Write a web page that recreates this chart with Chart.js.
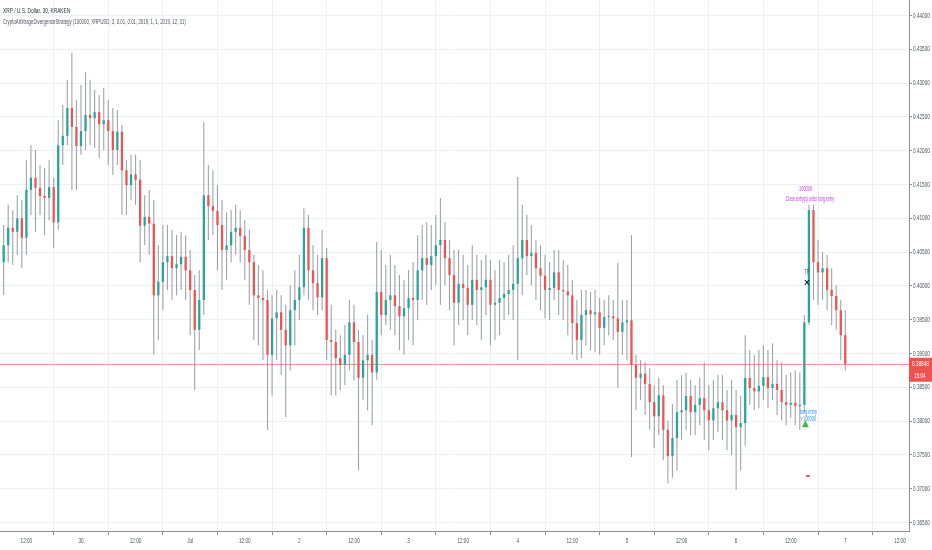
<!DOCTYPE html>
<html>
<head>
<meta charset="utf-8">
<script src="https://cdn.jsdelivr.net/npm/chart.js@4.4.1/dist/chart.umd.min.js"></script>
<style>
  html, body { margin: 0; padding: 0; background: #ffffff; }
  #wrap { width: 932px; height: 550px; }
</style>
</head>
<body>
<div id="wrap"><canvas id="chart" width="932" height="550"></canvas></div>
<script>
// hourly candles, first one at 29 Jun 07:00 (hours counted from 30 Jun 00:00)
const firstHour = -17;

const opens = [
  0.4035,0.4060,0.4086,0.4080,0.4100,0.4071,0.4142,0.4160,0.4145,0.4133,
  0.4130,0.4146,0.4094,0.4208,0.4222,0.4263,0.4235,0.4207,0.4229,0.4253,
  0.4248,0.4257,0.4239,0.4245,0.4229,0.4201,0.4228,0.4171,0.4149,0.4165,
  0.4157,0.4089,0.4102,0.4092,0.3986,0.4006,0.4035,0.4044,0.4026,0.4032,
  0.4043,0.4023,0.3994,0.3935,0.3979,0.4134,0.4118,0.4111,0.4090,0.4053,
  0.4060,0.4080,0.4086,0.4074,0.4053,0.4035,0.3986,0.3982,0.3979,0.3898,
  0.3952,0.3961,0.3935,0.3912,0.3964,0.3979,0.3998,0.4086,0.4023,0.4004,
  0.3983,0.4041,0.3920,0.3917,0.3893,0.3883,0.3898,0.3946,0.3917,0.3864,
  0.3890,0.3898,0.3872,0.3991,0.3957,0.3979,0.3986,0.3970,0.3955,0.3967,
  0.3982,0.3979,0.4023,0.4041,0.4031,0.4044,0.4060,0.4068,0.4041,0.4016,
  0.3975,0.4003,0.3997,0.3972,0.4009,0.3994,0.3998,0.4009,0.3972,0.3975,
  0.3982,0.3988,0.3994,0.4003,0.4041,0.4068,0.4044,0.4049,0.4026,0.4015,
  0.3994,0.3997,0.4020,0.3994,0.3992,0.3986,0.3945,0.3920,0.3957,0.3964,
  0.3958,0.3961,0.3938,0.3954,0.3955,0.3952,0.3932,0.3946,0.3949,0.3883,
  0.3864,0.3870,0.3855,0.3828,0.3807,0.3838,0.3787,0.3748,0.3775,0.3813,
  0.3816,0.3837,0.3813,0.3824,0.3834,0.3816,0.3801,0.3819,0.3828,0.3816,
  0.3801,0.3809,0.3791,0.3797,0.3864,0.3849,0.3844,0.3852,0.3865,0.3849,
  0.3855,0.3846,0.3828,0.3824,0.3827,0.3822,0.3824,0.3946,0.4112,0.4035,
  0.4020,0.4026,0.3994,0.3985,0.3964,0.3927
];
const highs = [
  0.4090,0.4120,0.4112,0.4134,0.4127,0.4186,0.4208,0.4201,0.4179,0.4174,
  0.4186,0.4160,0.4245,0.4268,0.4305,0.4345,0.4275,0.4297,0.4316,0.4305,
  0.4290,0.4282,0.4293,0.4275,0.4263,0.4260,0.4238,0.4186,0.4194,0.4194,
  0.4186,0.4134,0.4142,0.4127,0.4060,0.4090,0.4090,0.4083,0.4075,0.4080,
  0.4075,0.4053,0.4016,0.4023,0.4242,0.4179,0.4171,0.4149,0.4127,0.4109,
  0.4112,0.4120,0.4112,0.4097,0.4083,0.4046,0.4031,0.4023,0.3994,0.3986,
  0.3994,0.3986,0.3972,0.4001,0.4023,0.4046,0.4115,0.4105,0.4060,0.4046,
  0.4083,0.4056,0.3972,0.3935,0.3927,0.3942,0.3979,0.3972,0.3935,0.3927,
  0.3957,0.3920,0.4065,0.4053,0.4031,0.4046,0.4031,0.4016,0.4009,0.4023,
  0.4035,0.4075,0.4090,0.4094,0.4090,0.4105,0.4130,0.4094,0.4068,0.4053,
  0.4053,0.4046,0.4031,0.4060,0.4046,0.4038,0.4046,0.4038,0.4023,0.4038,
  0.4035,0.4046,0.4060,0.4161,0.4120,0.4105,0.4090,0.4068,0.4060,0.4046,
  0.4035,0.4053,0.4053,0.4038,0.4031,0.4009,0.3979,0.3994,0.3994,0.3991,
  0.3994,0.3982,0.3979,0.3986,0.3979,0.4034,0.3979,0.3979,0.4075,0.3898,
  0.3890,0.3887,0.3878,0.3853,0.3864,0.3853,0.3801,0.3825,0.3861,0.3868,
  0.3872,0.3861,0.3853,0.3864,0.3887,0.3853,0.3861,0.3868,0.3868,0.3846,
  0.3861,0.3846,0.3838,0.3927,0.3905,0.3898,0.3905,0.3912,0.3905,0.3915,
  0.3890,0.3887,0.3868,0.3872,0.3875,0.3872,0.3957,0.4120,0.4120,0.4068,
  0.4050,0.4046,0.4026,0.4001,0.3979,0.3964
];
const lows = [
  0.3986,0.4035,0.4031,0.4046,0.4026,0.4046,0.4105,0.4080,0.4105,0.4075,
  0.4097,0.4056,0.4083,0.4179,0.4208,0.4142,0.4142,0.4194,0.4201,0.4208,
  0.4204,0.4189,0.4201,0.4179,0.4164,0.4179,0.4105,0.4105,0.4127,0.4120,
  0.4035,0.4060,0.4046,0.3898,0.3920,0.3964,0.3994,0.3979,0.3986,0.3994,
  0.3979,0.3927,0.3846,0.3905,0.3957,0.4068,0.4075,0.4023,0.3994,0.4009,
  0.4035,0.4046,0.4035,0.4009,0.3972,0.3920,0.3912,0.3890,0.3787,0.3838,
  0.3890,0.3868,0.3806,0.3875,0.3912,0.3949,0.3986,0.3979,0.3964,0.3957,
  0.3964,0.3890,0.3838,0.3838,0.3846,0.3853,0.3875,0.3860,0.3727,0.3831,
  0.3816,0.3794,0.3861,0.3927,0.3942,0.3935,0.3927,0.3905,0.3898,0.3920,
  0.3912,0.3949,0.3979,0.3972,0.3994,0.4001,0.3972,0.4001,0.3964,0.3912,
  0.3942,0.3949,0.3927,0.3949,0.3942,0.3920,0.3957,0.3912,0.3920,0.3927,
  0.3949,0.3957,0.3949,0.3890,0.3986,0.4016,0.4001,0.3979,0.3964,0.3952,
  0.3949,0.3979,0.3957,0.3949,0.3927,0.3898,0.3890,0.3893,0.3912,0.3905,
  0.3902,0.3898,0.3912,0.3927,0.3920,0.3849,0.3898,0.3890,0.3747,0.3816,
  0.3831,0.3809,0.3787,0.3760,0.3779,0.3742,0.3708,0.3716,0.3727,0.3772,
  0.3787,0.3779,0.3779,0.3794,0.3772,0.3757,0.3772,0.3784,0.3772,0.3757,
  0.3750,0.3698,0.3727,0.3764,0.3824,0.3816,0.3819,0.3831,0.3819,0.3831,
  0.3809,0.3801,0.3794,0.3805,0.3794,0.3787,0.3813,0.3942,0.3979,0.3972,
  0.3979,0.3964,0.3942,0.3935,0.3890,0.3875
];
const closes = [
  0.4060,0.4086,0.4080,0.4100,0.4071,0.4142,0.4160,0.4145,0.4133,0.4130,
  0.4146,0.4094,0.4208,0.4222,0.4263,0.4235,0.4207,0.4229,0.4253,0.4248,
  0.4257,0.4239,0.4245,0.4229,0.4201,0.4228,0.4171,0.4149,0.4165,0.4157,
  0.4089,0.4102,0.4092,0.3986,0.4006,0.4035,0.4044,0.4026,0.4032,0.4043,
  0.4023,0.3994,0.3935,0.3979,0.4134,0.4118,0.4111,0.4090,0.4053,0.4060,
  0.4080,0.4086,0.4074,0.4053,0.4035,0.3986,0.3982,0.3979,0.3898,0.3952,
  0.3961,0.3935,0.3912,0.3964,0.3979,0.3998,0.4086,0.4023,0.4004,0.3983,
  0.4041,0.3920,0.3917,0.3893,0.3883,0.3898,0.3946,0.3917,0.3864,0.3890,
  0.3898,0.3872,0.3991,0.3957,0.3979,0.3986,0.3970,0.3955,0.3967,0.3982,
  0.3979,0.4023,0.4041,0.4031,0.4044,0.4060,0.4068,0.4041,0.4016,0.3975,
  0.4003,0.3997,0.3972,0.4009,0.3994,0.3998,0.4009,0.3972,0.3975,0.3982,
  0.3988,0.3994,0.4003,0.4041,0.4068,0.4044,0.4049,0.4026,0.4015,0.3994,
  0.3997,0.4020,0.3994,0.3992,0.3986,0.3945,0.3920,0.3957,0.3964,0.3958,
  0.3961,0.3938,0.3954,0.3955,0.3952,0.3932,0.3946,0.3949,0.3883,0.3864,
  0.3870,0.3855,0.3828,0.3807,0.3838,0.3787,0.3748,0.3775,0.3813,0.3816,
  0.3837,0.3813,0.3824,0.3834,0.3816,0.3801,0.3819,0.3828,0.3816,0.3801,
  0.3809,0.3791,0.3797,0.3864,0.3849,0.3844,0.3852,0.3865,0.3849,0.3855,
  0.3846,0.3828,0.3824,0.3827,0.3822,0.3824,0.3946,0.4112,0.4035,0.4020,
  0.4026,0.3994,0.3985,0.3964,0.3927,0.38848
];

// x axis ticks (hours from 30 Jun 00:00) and their labels
const tickHours = [-12, 0, 12, 24, 36, 48, 60, 72, 84, 96, 108, 120, 132, 144, 156, 168, 180];
const tickLabels = ['12:00','30','12:00','Jul','12:00','2','12:00','3','12:00','4','12:00','5','12:00','6','12:00','7','12:00'];
// y axis ticks
const priceTicks = [0.365,0.370,0.375,0.380,0.385,0.390,0.395,0.400,0.405,0.410,0.415,0.420,0.425,0.430,0.435,0.440];

const lastPrice = 0.38848;
const countdown = '15:04';
const entryIndex = 176;   // long entry bar
const exitIndex = 177;    // close entry bar
const xMarkPrice = 0.4004;
const dashPrice = 0.3719;

const UP = '#26a69a';
const DOWN = '#ef5350';
const FONT = '"Liberation Sans", Arial, sans-serif';

function squeezeText(ctx, str, x, y, size, color, align, sx) {
    ctx.save();
    ctx.font = size + 'px ' + FONT;
    ctx.fillStyle = color;
    ctx.textAlign = align || 'left';
    ctx.textBaseline = 'middle';
    ctx.translate(x, y);
    ctx.scale(sx || 0.62, 1);
    ctx.fillText(str, 0, 0);
    ctx.restore();
}

const overlay = {
    id: 'overlay',
    beforeDatasetsDraw(chart) {
        const ctx = chart.ctx;
        const y = chart.scales.y.getPixelForValue(lastPrice);
        ctx.save();
        ctx.strokeStyle = 'rgba(239, 83, 80, 0.6)';
        ctx.lineWidth = 1;
        ctx.beginPath();
        ctx.moveTo(chart.chartArea.left, Math.round(y) + 0.5);
        ctx.lineTo(chart.chartArea.right, Math.round(y) + 0.5);
        ctx.stroke();
        ctx.restore();
    },
    afterDraw(chart) {
        const ctx = chart.ctx;
        const xs = chart.scales.x;
        const ys = chart.scales.y;
        const area = chart.chartArea;

        // header
        squeezeText(ctx, 'XRP / U.S. Dollar, 30, KRAKEN', 3, 11, 8, '#2a2e39', 'left', 0.6);
        squeezeText(ctx, 'CryptoArbitrageDivergenceStrategy (100000, XRPUSD, 3, 0.01, 0.01, 2019, 1, 1, 2019, 12, 31)', 3, 22, 7.5, '#4c525e', 'left', 0.58);

        // axis labels
        priceTicks.forEach(v => {
            squeezeText(ctx, v.toFixed(5), area.right + 4, ys.getPixelForValue(v), 7.5, '#50535e', 'left', 0.62);
        });
        tickHours.forEach((h, i) => {
            squeezeText(ctx, tickLabels[i], xs.getPixelForValue(h), 541, 7.5, '#50535e', 'center', 0.62);
        });

        // last price label
        const py = ys.getPixelForValue(lastPrice);
        ctx.fillStyle = DOWN;
        ctx.fillRect(area.right, py - 6, chart.width - area.right, 24);
        squeezeText(ctx, lastPrice.toFixed(5), area.right + 3, py, 7.5, '#ffffff', 'left', 0.62);
        squeezeText(ctx, countdown, area.right + 5, py + 12, 7.5, '#ffffff', 'left', 0.62);

        // strategy markers
        const ex = xs.getPixelForValue(firstHour + exitIndex);
        const ey = ys.getPixelForValue(highs[exitIndex]);
        squeezeText(ctx, '-100000', ex - 4, ey - 16, 6.5, '#cc33ee', 'center', 0.6);
        squeezeText(ctx, 'Close entry(s) order long entry', ex + 1, ey - 6, 6.5, '#cc33ee', 'center', 0.55);

        const nx = xs.getPixelForValue(firstHour + entryIndex);
        const ny = ys.getPixelForValue(lows[entryIndex]);
        squeezeText(ctx, 'long entry', nx + 4, ny, 6.5, '#2196f3', 'center', 0.6);
        squeezeText(ctx, '+100000', nx + 4, ny + 7, 6.5, '#2196f3', 'center', 0.6);
        ctx.fillStyle = '#4caf50';
        ctx.beginPath();
        ctx.moveTo(nx + 1, ny + 8);
        ctx.lineTo(nx + 4.5, ny + 15);
        ctx.lineTo(nx - 2.5, ny + 15);
        ctx.closePath();
        ctx.fill();

        const xy = ys.getPixelForValue(xMarkPrice);
        squeezeText(ctx, 'TP', ex - 2, xy - 11, 6.5, '#555555', 'center', 0.6);
        ctx.save();
        ctx.font = 'bold 8px ' + FONT;
        ctx.fillStyle = '#111111';
        ctx.textAlign = 'center';
        ctx.textBaseline = 'middle';
        ctx.fillText('X', ex - 2, xy);
        ctx.restore();

        const dy = ys.getPixelForValue(dashPrice);
        ctx.fillStyle = '#e91e63';
        ctx.fillRect(ex - 3, dy - 0.5, 4, 1.5);
    }
};

const bodyData = closes.map((c, i) => ({ x: firstHour + i, y: [opens[i], c] }));
const wickData = closes.map((c, i) => ({ x: firstHour + i, y: [lows[i], highs[i]] }));

new Chart(document.getElementById('chart'), {
    type: 'bar',
    data: {
        datasets: [{
            label: 'body',
            data: bodyData,
            order: 0,
            grouped: false,
            barPercentage: 0.5,
            categoryPercentage: 1,
            minBarLength: 1,
            borderWidth: 0,
            backgroundColor: ctx => closes[ctx.dataIndex] >= opens[ctx.dataIndex] ? UP : DOWN
        }, {
            label: 'wick',
            data: wickData,
            order: 1,
            grouped: false,
            barPercentage: 0.24,
            categoryPercentage: 1,
            borderWidth: 0,
            backgroundColor: 'rgba(120, 123, 134, 0.7)'
        }]
    },
    options: {
        responsive: false,
        animation: false,
        devicePixelRatio: 1,
        layout: { padding: 0 },
        plugins: {
            legend: { display: false },
            tooltip: { enabled: false }
        },
        scales: {
            x: {
                type: 'linear',
                offset: false,
                min: -17.8,
                max: 182,
                afterBuildTicks: scale => { scale.ticks = tickHours.map(v => ({ value: v })); },
                afterFit: scale => { scale.height = 19; },
                ticks: { display: false },
                grid: { color: '#eef0f5', tickColor: '#8e9099', tickLength: 4 },
                border: { color: '#8e9099' }
            },
            y: {
                position: 'right',
                min: 0.36374,
                max: 0.44229,
                afterBuildTicks: scale => { scale.ticks = priceTicks.map(v => ({ value: v })); },
                afterFit: scale => { scale.width = 23; },
                ticks: { display: false },
                grid: { color: '#eef0f5', tickColor: '#8e9099', tickLength: 3 },
                border: { color: '#8e9099' }
            }
        }
    },
    plugins: [overlay]
});
</script>
</body>
</html>
